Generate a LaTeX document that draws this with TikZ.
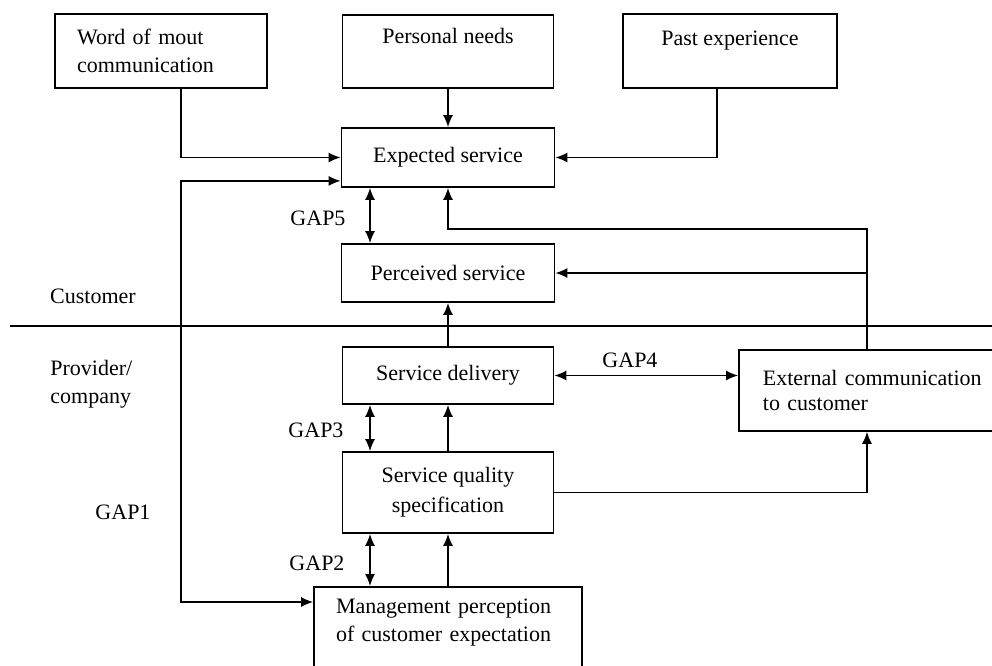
\documentclass[tikz,border=0pt]{standalone}
\usepackage{fontspec}
\setmainfont{Liberation Serif}
\usetikzlibrary{positioning,arrows.meta,calc}

\begin{document}
\begin{tikzpicture}[x=0.5pt, y=-0.5pt, font=\fontsize{11}{14}\selectfont,
  box/.style={draw, line width=0.9pt, align=center},
  lbl/.style={inner sep=0pt},
  arr/.style={-{Latex[length=6pt,width=5pt]}, line width=0.7pt},
  gaparr/.style={{Latex[length=6pt,width=5pt]}-{Latex[length=6pt,width=5pt]}, line width=0.7pt}]
  \useasboundingbox (0,0) rectangle (992,665);
  \clip (0,0) rectangle (992,665);
  % boxes
  \node[box, align=left, text width=84pt, inner xsep=11pt, minimum height=37pt] (wom) at (161,51) {Word of mout\\communication};
  \node[box, anchor=north, inner ysep=0pt, text height=14.5pt, text depth=22pt, minimum width=105.5pt] (personal) at (448,14) {Personal needs};
  \node[box, anchor=north, inner ysep=0pt, text height=16pt, text depth=21pt, minimum width=107pt] (past) at (730,13) {Past experience};
  \node[box, minimum width=106.5pt, minimum height=29.5pt] (expected) at (448,157.5) {Expected service};
  \node[box, minimum width=106.5pt, minimum height=29pt] (perceived) at (448,273) {Perceived service};
  \node[box, minimum width=105.5pt, minimum height=28.5pt] (delivery) at (448,375.5) {Service delivery};
  \node[box, minimum width=105.5pt, minimum height=40.5pt, font=\fontsize{11}{15}\selectfont] (quality) at (448,492.5) {Service quality\\specification};
  \node[box, anchor=north, align=left, text width=112pt, inner xsep=11pt, inner ysep=0pt, text height=13.5pt, text depth=33.5pt] (mgmt) at (448,586) {Management perception\\of customer expectation};
  \node[box, anchor=north west, align=left, text width=130pt, inner xsep=12pt, minimum height=40.5pt, font=\fontsize{11}{12.5}\selectfont] (ext) at (738,349) {External communication\\to customer};

  % customer / provider split
  \draw[line width=0.7pt] (10,326) -- (992,326);
  \node[lbl] (customer) at (93,296) {Customer};
  \node[lbl, anchor=west, align=left] (provider) at (50,384) {Provider/\\company};

  % gap labels
  \node[lbl] (gap1) at (123,512) {GAP1};
  \node[lbl] (gap2) at (317,563) {GAP2};
  \node[lbl] (gap3) at (316,430) {GAP3};
  \node[lbl] (gap4) at (630,360) {GAP4};
  \node[lbl] (gap5) at (318,218) {GAP5};

  \coordinate (gx) at (370,0);
  \coordinate (wx) at (181,0);
  \coordinate (px) at (717,0);
  \coordinate (ex) at (867,0);
  \coordinate (g1top) at ($(expected.south west)+(0,-7)$);
  \coordinate (g1bot) at ($(mgmt.north west)+(0,16)$);

  % connectors
  \draw[arr] (personal) -- (expected);
  \draw[arr] (wom.south -| wx) |- (expected.west);
  \draw[arr] (past.south -| px) |- (expected.east);
  \draw[gaparr] (g1top) -| (wx |- g1bot) -- (g1bot);
  \draw[gaparr] (expected.south -| gx) -- (perceived.north -| gx);
  \draw[arr] (ext.north -| ex) |- ($(expected.south)+(0,41)$) -- (expected.south);
  \draw[arr] (perceived.east -| ex) -- (perceived.east);
  \draw[arr] (delivery) -- (perceived);
  \draw[gaparr] (delivery.east) -- (delivery.east -| ext.west);
  \draw[gaparr] (delivery.south -| gx) -- (quality.north -| gx);
  \draw[arr] (quality) -- (delivery);
  \draw[arr] (quality.east) -| (ext.south -| ex);
  \draw[gaparr] (quality.south -| gx) -- (mgmt.north -| gx);
  \draw[arr] (mgmt.north) -- (quality.south);
\end{tikzpicture}
\end{document}
